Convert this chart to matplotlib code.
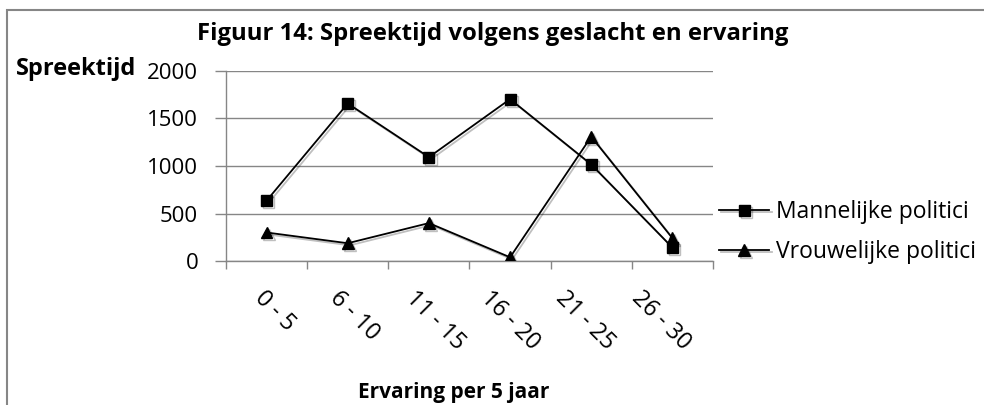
import matplotlib
matplotlib.use("Agg")
import matplotlib.pyplot as plt
import matplotlib.patheffects as pe
from matplotlib.patches import Rectangle
from matplotlib.transforms import ScaledTranslation

plt.rcParams['font.family'] = ['Open Sans', 'DejaVu Sans']

categorieen = ['0 - 5', '6 - 10', '11 - 15', '16 - 20', '21 - 25', '26 - 30']
mannen = [635, 1658, 1093, 1704, 1016, 141]
vrouwen = [300, 187, 399, 39, 1309, 240]
y_ticks = [0, 500, 1000, 1500, 2000]

GRIJS = '#868686'
FS = 16

fig = plt.figure(figsize=(9.84, 4.05), dpi=100)
ax = fig.add_axes([226 / 984, 1 - 261 / 405, 487 / 984, 190 / 405])

x = list(range(len(categorieen)))
schaduw = [pe.SimpleLineShadow(offset=(1.5, -1.5), alpha=0.25), pe.Normal()]
ax.plot(x, mannen, color='black', lw=1.3, marker='s', ms=8,
        label='Mannelijke politici', path_effects=schaduw, zorder=3)
ax.plot(x, vrouwen, color='black', lw=1.3, marker='^', ms=8.5,
        label='Vrouwelijke politici', path_effects=schaduw, zorder=3)

ax.set_xlim(-0.5, len(categorieen) - 0.5)
ax.set_ylim(0, 2000)
ax.set_yticks(y_ticks)
ax.set_yticklabels([str(v) for v in y_ticks], fontsize=FS)
ax.yaxis.grid(True, color=GRIJS, lw=1)
ax.set_axisbelow(True)

# tickstreepjes tussen de categorieen
ax.set_xticks([i - 0.5 for i in range(len(categorieen) + 1)])
ax.set_xticklabels([])
ax.tick_params(axis='x', length=6, color=GRIJS, width=1)
ax.tick_params(axis='y', length=8, color=GRIJS, width=1, pad=12)

# schuine categorielabels (Excel zet ze iets dichter op elkaar)
for i, naam in enumerate(categorieen):
    off = ScaledTranslation(-5.8 * i / 100, -25 / 100, fig.dpi_scale_trans)
    ax.text(i, 0, naam, transform=ax.get_xaxis_transform() + off,
            rotation=-45, rotation_mode='anchor', ha='left', va='top',
            fontsize=16.8)

for s in ['top', 'right']:
    ax.spines[s].set_visible(False)
for s in ['left', 'bottom']:
    ax.spines[s].set_color(GRIJS)
    ax.spines[s].set_linewidth(1)

fig.text(493 / 984, 1 - 40 / 405, 'Figuur 14: Spreektijd volgens geslacht en ervaring',
         ha='center', va='baseline', fontsize=17.2, fontweight='bold')
fig.text(16 / 984, 1 - 75 / 405, 'Spreektijd', ha='left', va='baseline',
         fontsize=17, fontweight='bold')
fig.text(454 / 984, 1 - 398 / 405, 'Ervaring per 5 jaar', ha='center', va='baseline',
         fontsize=15, fontweight='bold')

fig.legend(loc='center left', bbox_to_anchor=(719 / 984, 1 - 232 / 405),
           frameon=False, fontsize=16.5, handlelength=2.2, handletextpad=0.3,
           labelspacing=0.68, borderpad=0, borderaxespad=0)

# kader rond de grafiek
fig.patches.append(Rectangle((7 / 984, -0.1), 1.2, 1 - 10 / 405 + 0.1,
                             transform=fig.transFigure, fill=False,
                             edgecolor=GRIJS, lw=1.5))

fig.savefig('out.png', dpi=100)
